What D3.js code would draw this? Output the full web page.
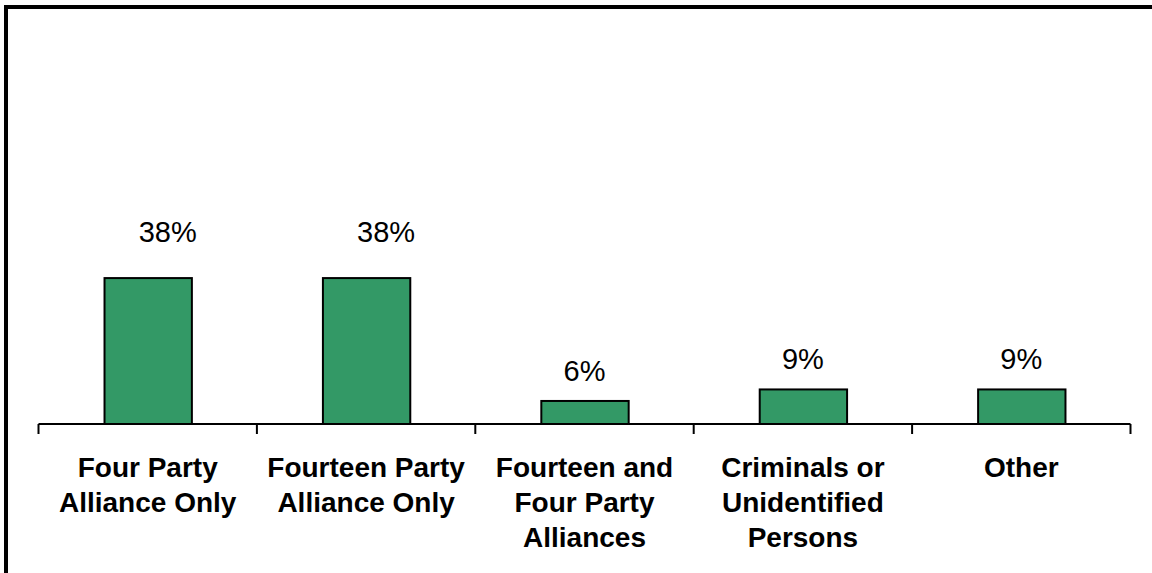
<!DOCTYPE html>
<html>
<head>
<meta charset="utf-8">
<script src="https://cdn.jsdelivr.net/npm/d3@7"></script>
<style>
  html, body { margin: 0; padding: 0; background: #fff; }
  svg { display: block; }
</style>
</head>
<body>
<svg id="chart" width="1152" height="573"></svg>
<script>
// ---- data ----
const categories = [
  "Four Party\nAlliance Only",
  "Fourteen Party\nAlliance Only",
  "Fourteen and\nFour Party\nAlliances",
  "Criminals or\nUnidentified\nPersons",
  "Other"
];
const values = [38, 38, 6, 9, 9];
const valueLabels = ["38%", "38%", "6%", "9%", "9%"];

// ---- layout ----
const W = 1152, H = 573;
const axisY = 424, plotTop = 40;
const xLeft = 38.5, xRight = 1130.5;
const barFrac = 0.4;
const labelGap = 20;
// manual label nudges (dx, extra dy) as placed in the original
const labelNudgeX = [20, 20, 0, 0, 0];
const labelNudgeY = [-16, -16, 0, 0, 0];

const svg = d3.select("#chart");

// outer frame (only top and left edges visible)
svg.append("rect")
  .attr("x", 6).attr("y", 7)
  .attr("width", W + 20).attr("height", H + 20)
  .attr("fill", "none").attr("stroke", "#000").attr("stroke-width", 4);

const x = d3.scaleBand().domain(categories).range([xLeft, xRight]).padding(0);
const y = d3.scaleLinear().domain([0, 100]).range([axisY, plotTop]);

const bw = x.bandwidth() * barFrac;

// bars
svg.append("g").selectAll("rect")
  .data(categories)
  .join("rect")
  .attr("x", d => x(d) + (x.bandwidth() - bw) / 2 + 0.5)
  .attr("y", (d, i) => y(values[i]))
  .attr("width", bw)
  .attr("height", (d, i) => y(0) - y(values[i]))
  .attr("fill", "#339966")
  .attr("stroke", "#000")
  .attr("stroke-width", 2);

// value labels
svg.append("g").selectAll("text")
  .data(categories)
  .join("text")
  .attr("x", (d, i) => x(d) + x.bandwidth() / 2 + labelNudgeX[i])
  .attr("y", (d, i) => y(values[i]) - labelGap + labelNudgeY[i])
  .attr("text-anchor", "middle")
  .attr("font-family", "Liberation Sans, Arial, sans-serif")
  .attr("font-size", 29)
  .attr("fill", "#000")
  .text((d, i) => valueLabels[i]);

// axis line and ticks
const axisG = svg.append("g");
axisG.append("line")
  .attr("x1", xLeft).attr("x2", xRight)
  .attr("y1", axisY).attr("y2", axisY)
  .attr("stroke", "#000").attr("stroke-width", 2);
const tickXs = categories.map(c => x(c)).concat([xRight]);
axisG.selectAll("line.tick")
  .data(tickXs)
  .join("line")
  .attr("class", "tick")
  .attr("x1", d => d).attr("x2", d => d)
  .attr("y1", axisY).attr("y2", axisY + 10)
  .attr("stroke", "#000").attr("stroke-width", 2);

// category labels
const catG = svg.append("g")
  .attr("font-family", "Liberation Sans, Arial, sans-serif")
  .attr("font-weight", "bold")
  .attr("font-size", 28)
  .attr("text-anchor", "middle");
categories.forEach(c => {
  const cx = x(c) + x.bandwidth() / 2;
  const t = catG.append("text")
    .attr("x", cx)
    .attr("y", 477);
  c.split("\n").forEach((line, k) => {
    t.append("tspan")
      .attr("x", cx)
      .attr("dy", k === 0 ? 0 : 35)
      .text(line);
  });
});
</script>
</body>
</html>
